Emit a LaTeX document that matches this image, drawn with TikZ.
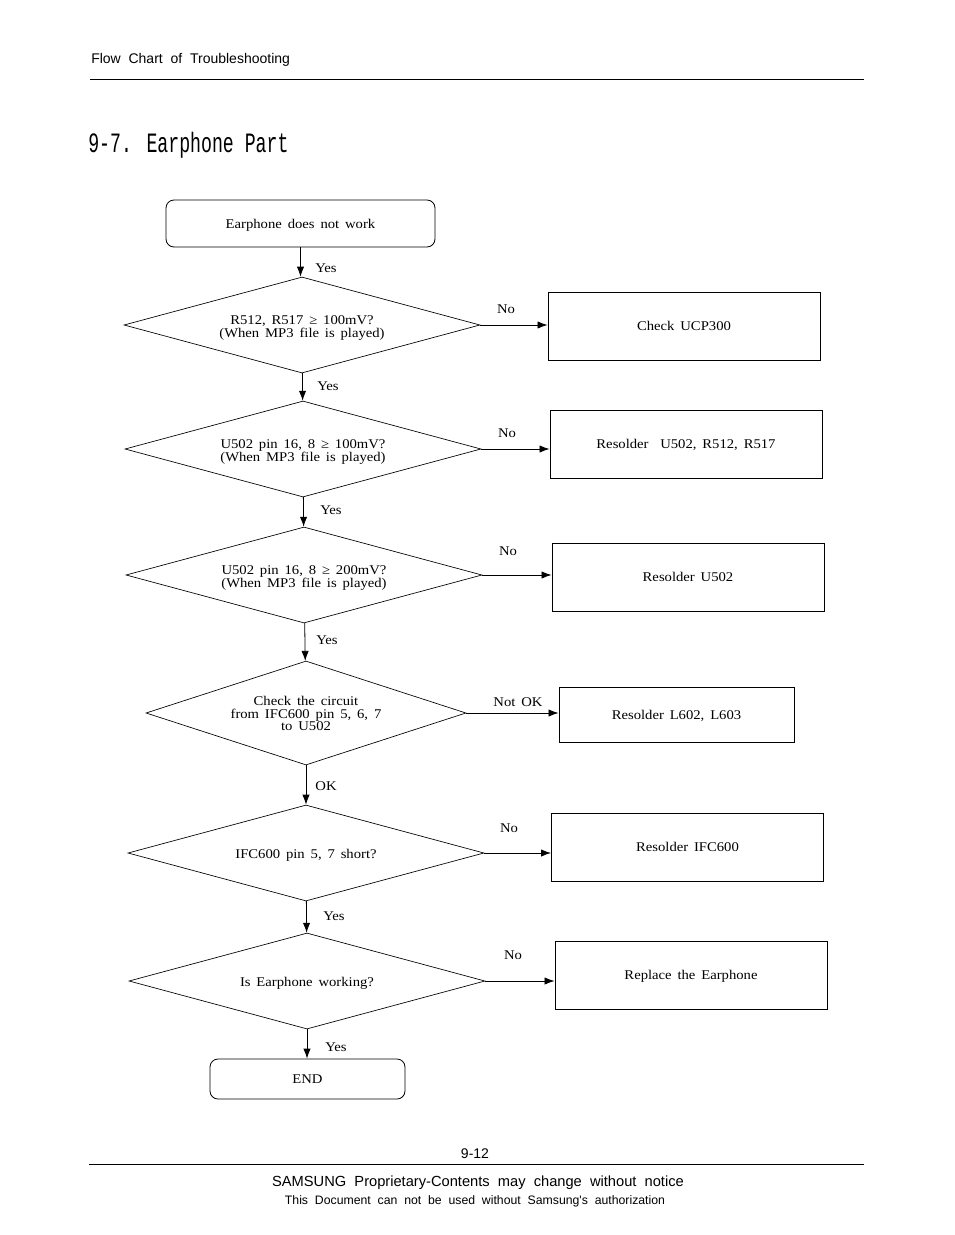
\documentclass[tikz,border=0pt]{standalone}
\usepackage{fontspec}
\setmainfont{Liberation Serif}
\newfontfamily\bodyfont{Liberation Serif}[FakeStretch=1.1,WordSpace=1.6]
\newfontfamily\headfont{Liberation Sans}[WordSpace=1.8]
\newfontfamily\footfont{Liberation Sans}
\newfontfamily\smallfootfont{Liberation Sans}[WordSpace=2.0]
\newfontfamily\titlefont{Liberation Mono}[FakeStretch=0.65]
\usetikzlibrary{shapes.geometric}
\usetikzlibrary{arrows.meta}
\usetikzlibrary{positioning}

\begin{document}
\begin{tikzpicture}[x=0.75pt,y=-0.75pt,
    font=\bodyfont\fontsize{10}{9.5}\selectfont,
    term/.style={draw,line width=0.6pt,rounded corners=6pt,inner sep=0pt,text height=9.5pt,text depth=2.5pt},
    decide/.style={draw,diamond,aspect=3.7,line width=0.5pt,inner sep=0pt,align=center,
        minimum width=267pt,minimum height=72pt,text height=10pt},
    action/.style={draw,line width=0.7pt,inner sep=0pt,minimum width=204pt,minimum height=51pt,
        text height=9.5pt,text depth=2.5pt},
    lbl/.style={inner sep=0pt},
    arr/.style={-{Latex[length=7.5pt,width=5.5pt]},line width=0.6pt}]
    \useasboundingbox (0,0) rectangle (954,1235);

    % page header
    \node[anchor=west,inner sep=0pt,font=\headfont\fontsize{10.5}{12}\selectfont] (head) at (91,60) {Flow Chart of Troubleshooting};
    \draw[line width=0.75pt] (90,79) -- (864,79);
    \node[anchor=west,inner sep=0pt,font=\titlefont\fontsize{21}{24}\selectfont] (title) at (88,145) {9-7. Earphone Part};

    % start
    \node[term,minimum width=201.75pt,minimum height=35.25pt] (start) at (300.5,223.5) {Earphone does not work};

    % decisions
    \node[decide,text height=20.5pt] (d1) at (302,325) {R512, R517 ≥ 100mV?\\(When MP3 file is played)};
    \node[decide,text height=20.5pt] (d2) at (303,449) {U502 pin 16, 8 ≥ 100mV?\\(When MP3 file is played)};
    \node[decide,text height=20.5pt] (d3) at (304,575) {U502 pin 16, 8 ≥ 200mV?\\(When MP3 file is played)};
    \node[decide,aspect=3,minimum width=240pt,minimum height=78pt,text height=27pt] (d4) at (306,713) {Check the circuit\\from IFC600 pin 5, 6, 7\\to U502};
    \node[decide] (d5) at (306,853) {IFC600 pin 5, 7 short?};
    \node[decide] (d6) at (307,981) {Is Earphone working?};

    % actions
    \node[action] (b1) at (684,326) {Check UCP300};
    \node[action] (b2) at (686,444) {Resolder\ \ U502, R512, R517};
    \node[action] (b3) at (688,577) {Resolder U502};
    \node[action,minimum width=176.25pt,minimum height=41.25pt] (b4) at (676.5,714.5) {Resolder L602, L603};
    \node[action] (b5) at (687.5,847) {Resolder IFC600};
    \node[action] (b6) at (691,975) {Replace the Earphone};

    % end
    \node[term,minimum width=146.25pt,minimum height=30pt] (stop) at (307.5,1079) {END};

    % yes path
    \draw[arr] (start) -- (start.south |- d1.north);
    \draw[arr] (d1) -- (d2);
    \draw[arr] (d2) -- (d3);
    \draw[arr] (d3) -- (d4);
    \draw[arr] (d4) -- (d5);
    \draw[arr] (d5) -- (d6);
    \draw[arr] (d6) -- (d6.south |- stop.north);

    % no path
    \draw[arr] (d1.east) -- (d1.east -| b1.west);
    \draw[arr] (d2.east) -- (d2.east -| b2.west);
    \draw[arr] (d3.east) -- (d3.east -| b3.west);
    \draw[arr] (d4.east) -- (d4.east -| b4.west);
    \draw[arr] (d5.east) -- (d5.east -| b5.west);
    \draw[arr] (d6.east) -- (d6.east -| b6.west);

    % labels
    \node[lbl] (y0) at (326,268) {Yes};
    \node[lbl] (y1) at (328,386) {Yes};
    \node[lbl] (y2) at (331,510) {Yes};
    \node[lbl] (y3) at (327,640) {Yes};
    \node[lbl] (ok4) at (326,786) {OK};
    \node[lbl] (y5) at (334,916) {Yes};
    \node[lbl] (y6) at (336,1047) {Yes};
    \node[lbl] (n1) at (506,309) {No};
    \node[lbl] (n2) at (507,433) {No};
    \node[lbl] (n3) at (508,551) {No};
    \node[lbl] (n4) at (518,702) {Not OK};
    \node[lbl] (n5) at (509,828) {No};
    \node[lbl] (n6) at (513,955) {No};

    % page footer
    \node[inner sep=0pt,font=\footfont\fontsize{10.5}{12}\selectfont] (pageno) at (475,1154) {9-12};
    \draw[line width=0.75pt] (89,1164) -- (864,1164);
    \node[inner sep=0pt,font=\footfont\fontsize{11}{13}\selectfont] (notice) at (478,1183) {SAMSUNG Proprietary-Contents may change without notice};
    \node[inner sep=0pt,font=\smallfootfont\fontsize{9.2}{11}\selectfont] (auth) at (475,1201) {This Document can not be used without Samsung's authorization};
\end{tikzpicture}
\end{document}
